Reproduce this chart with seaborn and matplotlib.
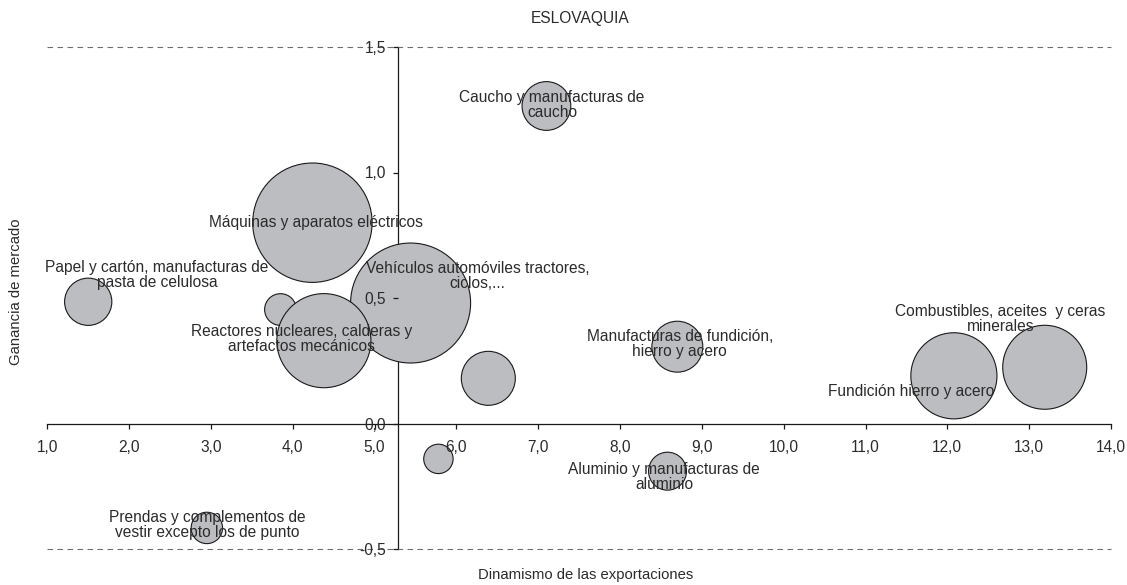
import matplotlib
matplotlib.use("Agg")
import matplotlib.pyplot as plt
import matplotlib.ticker as mticker
import numpy as np
import pandas as pd
import seaborn as sns

# --- data -------------------------------------------------------------
sectores = [
    "Caucho y manufacturas de\ncaucho",
    "Máquinas y aparatos eléctricos",
    "Vehículos automóviles tractores,\nciclos,...",
    "Papel y cartón, manufacturas de\npasta de celulosa",
    "Sector A",
    "Reactores nucleares, calderas y\nartefactos mecánicos",
    "Sector B",
    "Sector C",
    "Prendas y complementos de\nvestir excepto los de punto",
    "Manufacturas de fundición,\nhierro y acero",
    "Aluminio y manufacturas de\naluminio",
    "Fundición hierro y acero",
    "Combustibles, aceites  y ceras\nminerales",
]
dinamismo = [7.10, 4.24, 5.44, 1.50, 3.85, 4.38, 6.39, 5.78, 2.95, 8.70, 8.58, 12.08, 13.19]
ganancia = [1.265, 0.80, 0.48, 0.485, 0.454, 0.33, 0.18, -0.141, -0.416, 0.306, -0.19, 0.19, 0.224]
peso = [3.3, 19.8, 20.3, 3.1, 1.4, 12.3, 4.05, 1.2, 1.37, 3.6, 2.0, 10.3, 9.8]
mostrar_etiqueta = [True, True, True, True, False, True, False, False, True, True, True, True, True]

x_ticks = list(range(1, 15))
y_ticks = [-0.5, 0.0, 0.5, 1.0, 1.5]

df = pd.DataFrame({"sector": sectores, "dinamismo": dinamismo,
                   "ganancia": ganancia, "peso": peso})

# --- layout -----------------------------------------------------------
W, H, DPI = 1127, 585, 100
cruce_x = 5.28  # where the vertical axis crosses the horizontal one
label_xy = {
    sectores[0]: (7.17, 1.27),
    sectores[1]: (4.28, 0.80),
    sectores[2]: (6.26, 0.589),
    sectores[3]: (2.34, 0.593),
    sectores[5]: (4.11, 0.338),
    sectores[8]: (2.96, -0.406),
    sectores[9]: (8.73, 0.315),
    sectores[10]: (8.54, -0.215),
    sectores[11]: (11.56, 0.126),
    sectores[12]: (12.65, 0.416),
}

sns.set_theme(style="white")
plt.rcParams["font.family"] = ["Liberation Sans", "DejaVu Sans"]
TXT = "#2b2b2b"
FS = 11.2

fig = plt.figure(figsize=(W / DPI, H / DPI), dpi=DPI)
ax = fig.add_axes([47.3 / W, 1 - 549 / H, (1111 - 47.3) / W, (549 - 47) / H])

# bubble area proportional to weight: 20 -> 120 px diameter
d_pt = 120 * 72 / DPI
sns.scatterplot(data=df, x="dinamismo", y="ganancia", size="peso",
                sizes=(0, d_pt ** 2), size_norm=(0, 20),
                color="#bcbdc0", edgecolor="#1a1a1a", linewidth=0.8,
                alpha=1, legend=False, ax=ax, zorder=1)

ax.set_xlim(1, 14)
ax.set_ylim(-0.5, 1.5)
ax.set_axisbelow(False)  # tick labels on top of the bubbles

# axes crossing in the middle of the plot
for s in ("top", "right"):
    ax.spines[s].set_visible(False)
ax.spines["left"].set_position(("data", cruce_x))
ax.spines["bottom"].set_position(("data", 0))
for s in ("left", "bottom"):
    ax.spines[s].set_color("#1a1a1a")
    ax.spines[s].set_linewidth(0.9)
    ax.spines[s].set_zorder(0.5)

fmt = mticker.FuncFormatter(lambda v, p: f"{v:.1f}".replace(".", ","))
ax.set_xticks(x_ticks)
ax.set_yticks(y_ticks)
ax.xaxis.set_major_formatter(fmt)
ax.yaxis.set_major_formatter(fmt)
ax.tick_params(axis="x", direction="out", length=3.3, width=0.9, color="#1a1a1a",
               pad=8.5, labelsize=FS, labelcolor=TXT, bottom=True)
ax.tick_params(axis="y", direction="out", length=3.3, width=0.9, color="#1a1a1a",
               pad=5, labelsize=FS, labelcolor=TXT, left=True)

# dashed border lines at top and bottom of the range
for yv in (y_ticks[0], y_ticks[-1]):
    ax.axhline(yv, color="#6e6e6e", lw=0.8, ls=(0, (5, 4)), zorder=0.6,
               clip_on=False)

ax.set_xlabel("")
ax.set_ylabel("")

for nombre, ok in zip(sectores, mostrar_etiqueta):
    if ok:
        lx, ly = label_xy[nombre]
        ax.text(lx, ly, nombre, ha="center", va="center", fontsize=FS,
                color=TXT, linespacing=1.0, zorder=3)

fig.text(580 / W, 1 - 18 / H, "ESLOVAQUIA", ha="center", va="center",
         fontsize=FS, color=TXT)
fig.text(586 / W, 1 - 575 / H, "Dinamismo de las exportaciones",
         ha="center", va="center", fontsize=FS - 0.5, color=TXT)
fig.text(16 / W, 1 - 292 / H, "Ganancia de mercado", ha="center", va="center",
         rotation=90, fontsize=FS - 0.5, color=TXT)

fig.savefig("out.png", dpi=DPI)
